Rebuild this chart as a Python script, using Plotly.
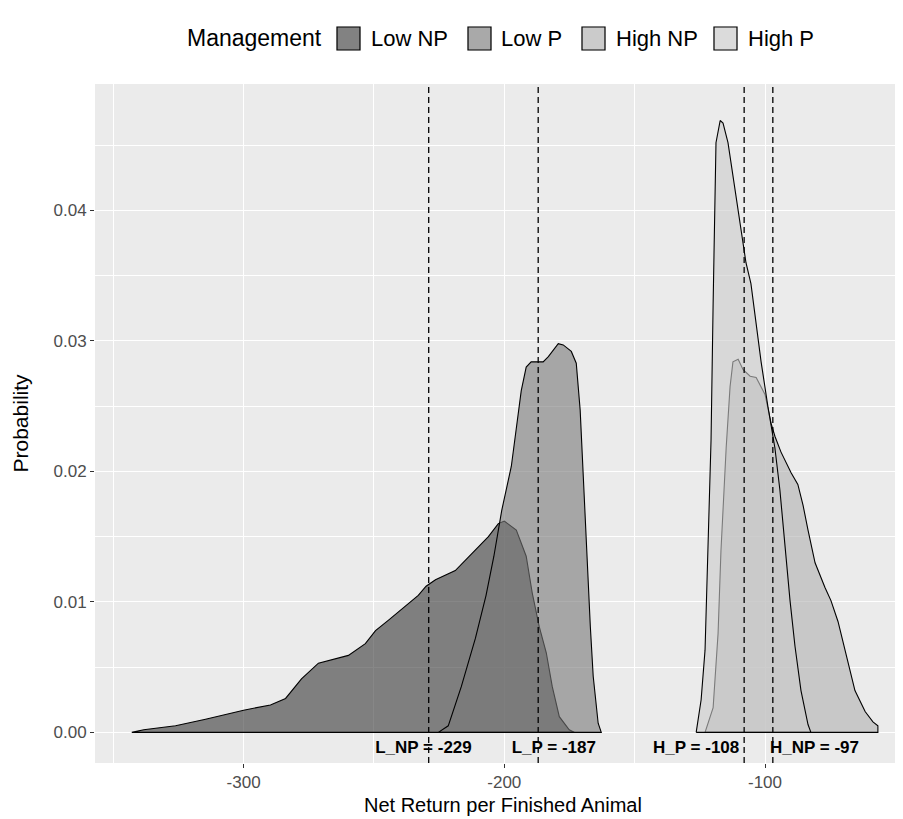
import plotly.graph_objects as go

# ---------------- data ----------------
groups = ["Low NP", "Low P", "High NP", "High P"]

low_np_x = [-342.9, -338.3, -326.1, -314.6, -300.0, -289.7, -283.9, -277.8, -271.3, -259.8,
            -253.3, -249.4, -244.4, -239.5, -233.0, -230.0, -226.4, -218.8, -211.1, -206.1,
            -202.3, -200.0, -195.4, -191.6, -189.3, -186.6, -183.9, -181.6, -178.9, -175.1, -173.2]
low_np_y = [0.0, 0.0002, 0.0005, 0.0010, 0.0017, 0.0021, 0.0026, 0.0041, 0.0053, 0.0059,
            0.0068, 0.0078, 0.0086, 0.0094, 0.0105, 0.0112, 0.0117, 0.0124, 0.0140, 0.0150,
            0.0160, 0.0162, 0.0155, 0.0135, 0.0107, 0.0081, 0.0061, 0.0035, 0.0012, 0.0002, 0.0]

low_p_x = [-225.3, -221.5, -216.5, -211.1, -207.0, -204.0, -201.0, -197.3, -193.5, -191.6,
           -189.7, -185.1, -183.1, -179.3, -177.4, -174.3, -172.4, -170.9, -169.7, -168.6,
           -167.0, -165.9, -164.0, -162.8]
low_p_y = [0.0, 0.0005, 0.0035, 0.0072, 0.0105, 0.0135, 0.0170, 0.0204, 0.0262, 0.0280,
           0.0284, 0.0284, 0.0288, 0.0298, 0.0297, 0.0292, 0.0283, 0.0247, 0.0196, 0.0145,
           0.0081, 0.0043, 0.0007, 0.0]

high_np_x = [-123.0, -119.9, -118.0, -116.9, -114.9, -113.4, -112.3, -110.3, -108.4, -105.7,
             -103.4, -100.0, -97.7, -96.2, -93.9, -90.0, -87.4, -85.4, -83.5, -80.8,
             -77.0, -74.7, -72.0, -69.3, -65.5, -61.6, -58.6, -56.7]
high_np_y = [0.0, 0.0019, 0.0076, 0.0139, 0.0218, 0.0265, 0.0284, 0.0286, 0.0278, 0.0273,
             0.0272, 0.0259, 0.0237, 0.0227, 0.0215, 0.0199, 0.0190, 0.0174, 0.0155, 0.0130,
             0.0111, 0.0101, 0.0085, 0.0063, 0.0032, 0.0016, 0.0008, 0.0005]

high_p_x = [-126.4, -124.5, -123.0, -121.8, -120.7, -119.9, -119.2, -118.8, -117.2, -116.1,
            -114.2, -111.5, -109.2, -107.3, -105.4, -103.4, -101.5, -98.9, -96.2, -94.3,
            -92.3, -90.4, -88.5, -86.2, -83.5, -82.4]
high_p_y = [0.0, 0.0025, 0.0063, 0.0139, 0.0224, 0.0329, 0.0392, 0.0452, 0.0469, 0.0467,
            0.0452, 0.0417, 0.0385, 0.0360, 0.0344, 0.0313, 0.0284, 0.0250, 0.0218, 0.0186,
            0.0139, 0.0101, 0.0066, 0.0032, 0.0006, 0.0]

mean_values = [-229, -187, -108, -97]
label_text = ["L_NP = -229", "L_P = -187", "H_P = -108", "H_NP = -97"]
label_x = [-231.0, -181.0, -126.4, -81.0]
label_y = [-0.00125, -0.00125, -0.00125, -0.00125]

x_ticks = [-300, -200, -100]
x_minor = [-350, -250, -150, -50]
y_ticks = [0.00, 0.01, 0.02, 0.03, 0.04]
y_ticklabels = ["0.00", "0.01", "0.02", "0.03", "0.04"]
y_minor = [0.005, 0.015, 0.025, 0.035, 0.045]

curves = [(low_np_x, low_np_y), (low_p_x, low_p_y), (high_np_x, high_np_y), (high_p_x, high_p_y)]
fills = ["rgba(55,55,55,0.6)", "rgba(120,120,120,0.6)", "rgba(177,177,177,0.6)", "rgba(203,203,203,0.6)"]

FONT = "Liberation Sans, Arial, sans-serif"
W, H = 903, 819
L, R, T, B = 87, 0, 76, 64

fig = go.Figure()
for (xs, ys), fc, name in zip(curves, fills, groups):
    px = [xs[0]] + list(xs) + [xs[-1], xs[0]]
    py = [0.0] + list(ys) + [0.0, 0.0]
    fig.add_trace(go.Scatter(x=px, y=py, mode="lines", fill="toself", fillcolor=fc,
                             line=dict(color="black", width=1.1), name=name,
                             showlegend=False, hoverinfo="skip"))

for m in mean_values:
    fig.add_shape(type="line", xref="x", yref="paper", x0=m, x1=m, y0=0, y1=1,
                  line=dict(color="black", width=1.3, dash="6px,4px"), layer="above")

fig.add_trace(go.Scatter(x=label_x, y=label_y, mode="text",
                         text=["<b>%s</b>" % t for t in label_text],
                         textfont=dict(family=FONT, size=17, color="black"),
                         showlegend=False, hoverinfo="skip", cliponaxis=False))

# ---- legend drawn manually (paper coords from pixels) ----
pw = W - L - R
ph = H - T - B
def pxx(v):
    return (v - L) / pw
def pyy(v):
    return (H - B - v) / ph

fig.add_annotation(x=pxx(177), y=pyy(30), xref="paper", yref="paper", text="Management",
                   showarrow=False, xanchor="left", yanchor="middle",
                   font=dict(family=FONT, size=23, color="black"))
box_left = [328, 459, 573, 705]
text_left = [361, 491, 606, 738]
leg_fill_bg = "#F2F2F2"
for i, g in enumerate(groups):
    bx = box_left[i]
    fig.add_shape(type="rect", xref="paper", yref="paper", x0=pxx(bx), x1=pxx(bx + 25),
                  y0=pyy(43), y1=pyy(18), fillcolor=leg_fill_bg, line=dict(width=0), layer="above")
    fig.add_shape(type="rect", xref="paper", yref="paper", x0=pxx(bx + 1), x1=pxx(bx + 24),
                  y0=pyy(42), y1=pyy(19), fillcolor=fills[i], line=dict(color="black", width=1.2),
                  layer="above")
    fig.add_annotation(x=pxx(text_left[i]), y=pyy(30), xref="paper", yref="paper", text=g,
                       showarrow=False, xanchor="left", yanchor="middle",
                       font=dict(family=FONT, size=22, color="black"))

# axis titles
fig.add_annotation(x=0.5 * (pxx(87) + pxx(903)), y=pyy(797), xref="paper", yref="paper",
                   text="Net Return per Finished Animal", showarrow=False,
                   xanchor="center", yanchor="middle",
                   font=dict(family=FONT, size=20, color="black"))
fig.add_annotation(x=pxx(12), y=0.5, xref="paper", yref="paper", text="Probability",
                   showarrow=False, textangle=-90, xanchor="center", yanchor="middle",
                   font=dict(family=FONT, size=21, color="black"))

fig.update_layout(
    width=W, height=H,
    margin=dict(l=L, r=R, t=T, b=B),
    paper_bgcolor="white", plot_bgcolor="#EBEBEB",
    showlegend=False,
    font=dict(family=FONT),
)
fig.update_xaxes(range=[-357, -44], tickvals=x_ticks, ticktext=[str(v) for v in x_ticks],
                 showgrid=True, gridcolor="white", gridwidth=1.3, zeroline=False, showline=False,
                 ticks="outside", ticklen=4, tickwidth=1.1, tickcolor="#333333",
                 tickfont=dict(family=FONT, size=17, color="#4D4D4D"),
                 minor=dict(tickvals=x_minor, showgrid=True, gridcolor="white", gridwidth=0.6, ticks=""))
fig.update_yaxes(range=[-0.00235, 0.0497], tickvals=y_ticks, ticktext=y_ticklabels,
                 showgrid=True, gridcolor="white", gridwidth=1.3, zeroline=False, showline=False,
                 ticks="outside", ticklen=4, tickwidth=1.1, tickcolor="#333333",
                 tickfont=dict(family=FONT, size=17, color="#4D4D4D"),
                 minor=dict(tickvals=y_minor, showgrid=True, gridcolor="white", gridwidth=0.6, ticks=""))

fig.write_html("out.html")
